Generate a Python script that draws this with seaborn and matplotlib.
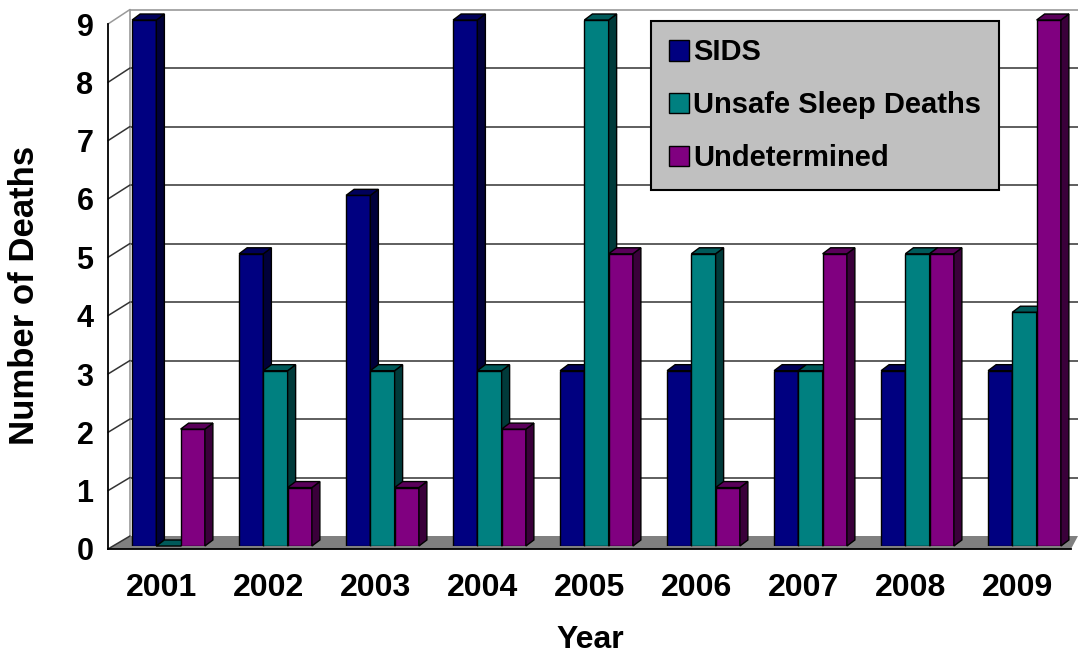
import numpy as np
import pandas as pd
import matplotlib
matplotlib.use("Agg")
import matplotlib.pyplot as plt
import seaborn as sns
from matplotlib.patches import Polygon, Patch
from matplotlib.lines import Line2D
from matplotlib.transforms import Affine2D

# ---------------- data ----------------
years = ["2001", "2002", "2003", "2004", "2005", "2006", "2007", "2008", "2009"]
sids = [9, 5, 6, 9, 3, 3, 3, 3, 3]
unsafe_sleep = [0, 3, 3, 3, 9, 5, 3, 5, 4]
undetermined = [2, 1, 1, 2, 5, 1, 5, 5, 9]
series_names = ["SIDS", "Unsafe Sleep Deaths", "Undetermined"]
series_colors = ["#000080", "#008080", "#800080"]
y_ticks = list(range(0, 10))

df = pd.DataFrame({
    "Year": years * 3,
    "Deaths": sids + unsafe_sleep + undetermined,
    "Series": [series_names[0]] * 9 + [series_names[1]] * 9 + [series_names[2]] * 9,
})

# ---------------- style ----------------
sns.set_theme(style="white")
plt.rcParams["font.family"] = ["Liberation Sans", "DejaVu Sans"]
plt.rcParams["font.weight"] = "bold"
for k in ["text.color", "axes.labelcolor", "xtick.color", "ytick.color"]:
    plt.rcParams[k] = "black"

W, H = 1078, 654
fig = plt.figure(figsize=(W / 100, H / 100), dpi=100)
fig.patch.set_facecolor("white")

def rect(l, t, r, b):
    return [l / W, 1 - b / H, (r - l) / W, (b - t) / H]

pix = Affine2D().scale(1 / W, -1 / H).translate(0, 1) + fig.transFigure

# back wall
ax_back = fig.add_axes(rect(130, 9.5, 1078, 536), zorder=0)
ax_back.set_xlim(0, 1)
ax_back.set_ylim(0, 9)
ax_back.set_xticks([])
ax_back.set_yticks([])
for s in ["right", "bottom"]:
    ax_back.spines[s].set_visible(False)
for s in ["left", "top"]:
    ax_back.spines[s].set_color("#999999")
    ax_back.spines[s].set_linewidth(1.2)
for v in y_ticks[1:-1]:
    ax_back.axhline(v, color="#333333", lw=1.1, zorder=1)

# floor
floor = Polygon([(130, 536), (1078, 536), (1071, 549), (108, 549)], closed=True,
                facecolor="#808080", edgecolor="none", transform=pix, clip_on=False, zorder=2)
ax_back.add_patch(floor)

# bars
ax_bars = fig.add_axes(rect(115, 20, 1078, 546), zorder=2)
ax_bars.patch.set_visible(False)
sns.barplot(data=df, x="Year", y="Deaths", hue="Series", palette=series_colors,
            hue_order=series_names, order=years, width=0.68, edgecolor="black",
            linewidth=1.0, saturation=1, legend=False, ax=ax_bars)
ax_bars.set_xlim(-0.5, 8.5)
ax_bars.set_ylim(0, 9)
ax_bars.axis("off")

ddx = 8 / 107.0
ddy = 6 / (526 / 9.0)

def darker(c, f):
    return (c[0] * f, c[1] * f, c[2] * f, 1)

bars = [p for p in ax_bars.patches if p.get_width() > 0]
bars.sort(key=lambda p: p.get_x())
for i, p in enumerate(bars):
    x, w, h = p.get_x(), p.get_width(), p.get_height()
    c = p.get_facecolor()
    z = 3 + i * 0.01
    p.set_zorder(z)
    side = Polygon([(x + w, 0), (x + w, h), (x + w + ddx, h + ddy), (x + w + ddx, ddy)],
                   closed=True, facecolor=darker(c, 0.45), edgecolor="black", lw=1.0,
                   clip_on=False, zorder=z)
    top = Polygon([(x, h), (x + w, h), (x + w + ddx, h + ddy), (x + ddx, h + ddy)],
                  closed=True, facecolor=darker(c, 0.7), edgecolor="black", lw=1.0,
                  clip_on=False, zorder=z)
    ax_bars.add_patch(side)
    ax_bars.add_patch(top)

# front axis
ax_front = fig.add_axes(rect(108, 24, 1071, 549), zorder=3)
ax_front.patch.set_visible(False)
ax_front.set_xlim(0, len(years))
ax_front.set_ylim(0, 9)
for s in ["right", "top"]:
    ax_front.spines[s].set_visible(False)
for s in ["left", "bottom"]:
    ax_front.spines[s].set_color("black")
    ax_front.spines[s].set_linewidth(1.3)
ax_front.set_yticks(y_ticks)
ax_front.set_yticklabels([str(v) for v in y_ticks], fontsize=22, fontweight="bold")
ax_front.tick_params(axis="y", direction="out", length=6.5, width=1.2, color="black", pad=4)
ax_front.set_xticks(np.arange(0, len(years) + 1))
ax_front.set_xticklabels([])
ax_front.set_xticks(np.arange(len(years)) + 0.5, minor=True)
ax_front.set_xticklabels(years, minor=True, fontsize=23, fontweight="bold")
ax_front.tick_params(axis="x", which="major", direction="out", length=7, width=1.2, color="black")
ax_front.tick_params(axis="x", which="minor", length=0, pad=17)

# side wall diagonals
fig.canvas.draw()
for v in y_ticks:
    p0 = ax_front.transData.transform((0, v))
    p1 = ax_back.transData.transform((0, v))
    col = "#999999" if v == 9 else "#333333"
    fig.add_artist(Line2D([p0[0], p1[0]], [p0[1], p1[1]], color=col, lw=1.1,
                          transform=None, zorder=1))

# labels
fig.text(25 / W, 1 - 295 / H, "Number of Deaths", rotation=90, ha="center", va="center",
         fontsize=25, fontweight="bold")
fig.text(590 / W, 1 - 640 / H, "Year", ha="center", va="center",
         fontsize=23, fontweight="bold")

# legend
handles = [Patch(facecolor=c, edgecolor="black", lw=1.0) for c in series_colors]
leg = ax_front.legend(handles, series_names, loc="upper left",
                      bbox_to_anchor=(651 / W, 1 - 21 / H), bbox_transform=fig.transFigure,
                      borderaxespad=0, frameon=True, fancybox=False, framealpha=1,
                      facecolor="#C0C0C0", edgecolor="black", prop={"size": 21, "weight": "bold"},
                      handlelength=0.7, handleheight=0.7, handletextpad=0.15,
                      labelspacing=0.85, borderpad=0.6)
leg.get_frame().set_linewidth(1.5)
for t in leg.get_texts():
    t.set_color("black")

fig.savefig("out.png", dpi=100)
